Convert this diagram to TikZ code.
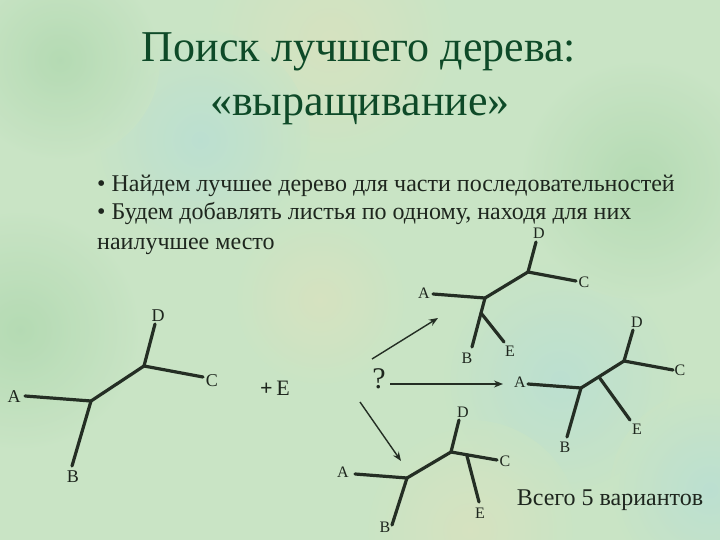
\documentclass[tikz,border=0pt]{standalone}
\usepackage{fontspec}
\setmainfont{Liberation Serif}
\usetikzlibrary{arrows.meta}
\definecolor{bg}{RGB}{201,228,197}
\definecolor{beige}{RGB}{220,226,190}
\definecolor{cyanish}{RGB}{182,222,214}
\definecolor{greenish}{RGB}{172,215,172}
\definecolor{titlegreen}{RGB}{14,74,40}
\definecolor{ink}{RGB}{30,38,30}
\definecolor{branch}{RGB}{36,46,36}
\tikzset{
  edge/.style={draw=branch, line width=3.2pt, line cap=round, line join=round},
  lbl/.style={text=ink, font=\fontsize{16}{18}\selectfont, inner sep=0pt},
  bigl/.style={text=ink, font=\fontsize{18}{20}\selectfont, inner sep=0pt},
  arr/.style={draw=branch, line width=1.4pt, -{Stealth[length=9pt,width=7pt]}},
  bullet/.style={text=ink, font=\fontsize{24}{26}\selectfont, anchor=base west, inner sep=0pt},
  ttl/.style={text=titlegreen, font=\fontsize{44}{46}\selectfont, anchor=base, inner sep=0pt},
  blob/.style={opacity=0.7}
}
\begin{document}
\begin{tikzpicture}[x=1pt,y=-1pt]
\useasboundingbox (0,0) rectangle (720,540);
\fill[bg] (0,0) rectangle (720,540);
\begin{scope}
\clip (0,0) rectangle (720,540);
\shade[blob, inner color=beige, outer color=bg] (330,40) circle (130);
\shade[blob, inner color=cyanish, outer color=bg] (200,140) circle (110);
\shade[blob, inner color=greenish, outer color=bg] (20,330) circle (120);
\shade[blob, inner color=beige, outer color=bg] (320,300) circle (90);
\shade[blob, inner color=cyanish, outer color=bg] (560,380) circle (120);
\shade[blob, inner color=beige, outer color=bg] (470,530) circle (110);
\shade[blob, inner color=cyanish, outer color=bg] (710,490) circle (100);
\shade[blob, inner color=greenish, outer color=bg] (640,180) circle (120);
\shade[blob, inner color=greenish, outer color=bg] (60,60) circle (100);
\end{scope}

% Title
\node[ttl] (t1) at (359,62) {Поиск лучшего дерева:};
\node[ttl] (t2) at (360,116) {«выращивание»};

% Bullets
\node[bullet] (b1) at (97,192) {• Найдем лучшее дерево для части последовательностей};
\node[bullet] (b2) at (97,220) {• Будем добавлять листья по одному, находя для них};
\node[bullet] (b3) at (97,249) {наилучшее место};

% Tree 1
\coordinate (t1D) at (155,324);
\coordinate (t1U) at (144,366);
\coordinate (t1C) at (203,377);
\coordinate (t1L) at (91,401);
\coordinate (t1A) at (25,396);
\coordinate (t1B) at (72,466);
\node[bigl] (l1D) at (158,316) {D};
\node[bigl] (l1C) at (212,381) {C};
\node[bigl] (l1A) at (14,397) {A};
\node[bigl] (l1B) at (73,477) {B};
\draw[edge] (t1D) -- (t1U) -- (t1C);
\draw[edge] (t1U) -- (t1L);
\draw[edge] (t1A) -- (t1L) -- (t1B);

\node[text=ink, font=\fontsize{22}{24}\selectfont, inner sep=0pt] (plusE) at (275,388) {\textbf{+}\,E};
\node[text=ink, font=\fontsize{30}{32}\selectfont, inner sep=0pt] (q) at (379,379) {?};

% Tree 2
\coordinate (t2D) at (536,242);
\coordinate (t2U) at (528,272);
\coordinate (t2C) at (576,281);
\coordinate (t2L) at (485,298);
\coordinate (t2A) at (433,294);
\coordinate (t2S) at (481,313);
\coordinate (t2B) at (472,347);
\coordinate (t2E) at (504,342);
\node[lbl] (l2D) at (539,233) {D};
\node[lbl] (l2C) at (584,282) {C};
\node[lbl] (l2A) at (424,293) {A};
\node[lbl] (l2B) at (467,358) {B};
\node[lbl] (l2E) at (510,351) {E};
\draw[edge] (t2D) -- (t2U) -- (t2C);
\draw[edge] (t2U) -- (t2L);
\draw[edge] (t2A) -- (t2L) -- (t2S) -- (t2B);
\draw[edge] (t2S) -- (t2E);

% Tree 3
\coordinate (t3D) at (633,330);
\coordinate (t3U) at (624,361);
\coordinate (t3C) at (673,370);
\coordinate (t3L) at (581,388);
\coordinate (t3A) at (528,384);
\coordinate (t3S) at (599,377);
\coordinate (t3E) at (630,420);
\coordinate (t3B) at (567,437);
\node[lbl] (l3D) at (637,322) {D};
\node[lbl] (l3C) at (680,370) {C};
\node[lbl] (l3A) at (520,382) {A};
\node[lbl] (l3B) at (565,447) {B};
\node[lbl] (l3E) at (637,429) {E};
\draw[edge] (t3D) -- (t3U) -- (t3C);
\draw[edge] (t3U) -- (t3L);
\draw[edge] (t3A) -- (t3L) -- (t3B);
\draw[edge] (t3S) -- (t3E);

% Tree 4
\coordinate (t4D) at (459,420);
\coordinate (t4U) at (451,452);
\coordinate (t4C) at (497,460);
\coordinate (t4L) at (407,478);
\coordinate (t4A) at (355,474);
\coordinate (t4S) at (467,456);
\coordinate (t4E) at (479,502);
\coordinate (t4B) at (392,525);
\node[lbl] (l4D) at (463,412) {D};
\node[lbl] (l4C) at (505,461) {C};
\node[lbl] (l4A) at (343,472) {A};
\node[lbl] (l4B) at (385,527) {B};
\node[lbl] (l4E) at (480,513) {E};
\draw[edge] (t4D) -- (t4U) -- (t4C);
\draw[edge] (t4U) -- (t4L);
\draw[edge] (t4A) -- (t4L) -- (t4B);
\draw[edge] (t4S) -- (t4E);

% Arrows
\coordinate (aUp0) at (372,359);
\coordinate (aUp1) at (438,318);
\coordinate (aMid0) at (390,384);
\coordinate (aMid1) at (503,384);
\coordinate (aDn0) at (360,402);
\coordinate (aDn1) at (401,461);
\draw[arr] (aUp0) -- (aUp1);
\draw[arr] (aMid0) -- (aMid1);
\draw[arr] (aDn0) -- (aDn1);

\node[text=ink, font=\fontsize{24}{26}\selectfont, inner sep=0pt] (total) at (610,500) {Всего 5 вариантов};
\end{tikzpicture}
\end{document}
